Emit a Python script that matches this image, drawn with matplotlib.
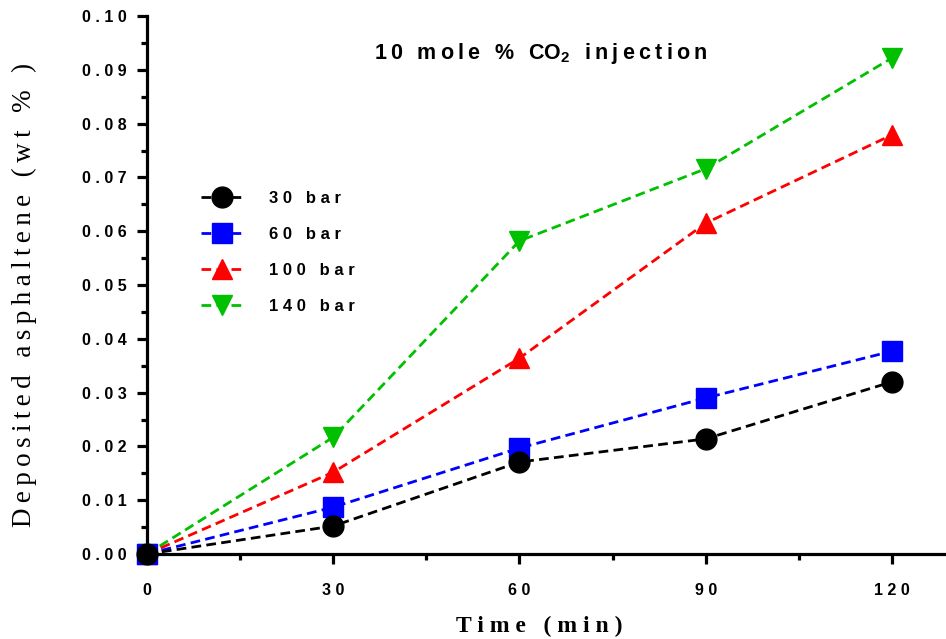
import matplotlib
matplotlib.use("Agg")
import matplotlib.pyplot as plt
from matplotlib.ticker import MultipleLocator, FixedLocator, FixedFormatter

time_min = [0, 30, 60, 90, 120]
series_labels = ["30 bar", "60 bar", "100 bar", "140 bar"]
dep_30 = [0.0, 0.0052, 0.0171, 0.0214, 0.0320]
dep_60 = [0.0, 0.0087, 0.0197, 0.0290, 0.0377]
dep_100 = [0.0, 0.0152, 0.0364, 0.0615, 0.0779]
dep_140 = [0.0, 0.0217, 0.0582, 0.0716, 0.0922]
x_ticks = [0, 30, 60, 90, 120]
y_ticks = [0.00, 0.01, 0.02, 0.03, 0.04, 0.05, 0.06, 0.07, 0.08, 0.09, 0.10]
title_text = "10 mole % CO2 injection"
x_label = "Time (min)"
y_label = "Deposited asphaltene (wt % )"


def spaced(s, sep):
    return sep.join(list(s))


SANS = ['Liberation Sans', 'DejaVu Sans']
SERIF = ['Liberation Serif', 'DejaVu Serif']

plt.rcParams['mathtext.fontset'] = 'custom'
plt.rcParams['mathtext.rm'] = 'Liberation Sans:bold'
plt.rcParams['mathtext.it'] = 'Liberation Sans:bold'
plt.rcParams['mathtext.bf'] = 'Liberation Sans:bold'

fig = plt.figure(figsize=(9.46, 6.39), dpi=100)
ax = fig.add_axes([147/946, 1-554/639, 1-147/946, (554-16)/639])

styles = [
    (dep_30, "black", "o", 15),
    (dep_60, "#0000ff", "s", 14),
    (dep_100, "#ff0000", "^", 15),
    (dep_140, "#00c000", "v", 15),
]
n = len(styles)
for i, ((vals, col, mk, ms), lab) in enumerate(zip(styles, series_labels)):
    ax.plot(time_min, vals, linestyle=(0, (3.5, 1.9)), color=col, lw=2.0,
            marker=mk, markersize=ms, markeredgecolor=col,
            label=spaced(lab, ' '), clip_on=False, zorder=3 + (n - i))

ax.set_xlim(0, 128.7)
ax.set_ylim(0, 0.10)
ax.xaxis.set_major_locator(FixedLocator(x_ticks))
ax.xaxis.set_minor_locator(MultipleLocator(15))
ax.yaxis.set_major_locator(FixedLocator(y_ticks))
ax.yaxis.set_minor_locator(MultipleLocator(0.005))
ax.yaxis.set_major_formatter(FixedFormatter([spaced(f"{v:.2f}", ' ') for v in y_ticks]))
ax.xaxis.set_major_formatter(FixedFormatter([spaced(str(v), ' ') for v in x_ticks]))

for s in ["top", "right"]:
    ax.spines[s].set_visible(False)
for s in ["left", "bottom"]:
    ax.spines[s].set_linewidth(2.3)

ax.tick_params(axis='both', which='major', length=7, width=2.3, direction='out',
               labelsize=11.5, pad=7.5)
ax.tick_params(axis='both', which='minor', length=4.5, width=2.3, direction='out')
for lbl in ax.get_xticklabels() + ax.get_yticklabels():
    lbl.set_fontfamily(SANS)
    lbl.set_fontweight('bold')
ax.tick_params(axis='x', pad=14)

ax.set_ylabel(spaced(y_label, '\u2009'), fontfamily=SERIF, fontsize=19.5)
ax.yaxis.set_label_coords(-147/799 + 37/799, (554-295)/538)
ax.set_xlabel(spaced(x_label, ' '), fontfamily=SERIF, fontweight='bold',
              fontsize=17)
ax.xaxis.set_label_coords((539-147)/799, -(616-554)/538)

t = title_text.replace("CO2", "@")
ax.text(63.5, 0.0930, spaced(t, '\u2009').replace("@", "CO$_2$"),
        ha='center', va='center', fontfamily=SANS, fontweight='bold', fontsize=15.5)

leg = ax.legend(loc='upper left', bbox_to_anchor=(0.0487, 0.702), frameon=False,
                handlelength=2.5, labelspacing=1.25, handletextpad=1.6,
                prop={'family': SANS, 'weight': 'bold', 'size': 12})

fig.savefig("out.png", dpi=100)
